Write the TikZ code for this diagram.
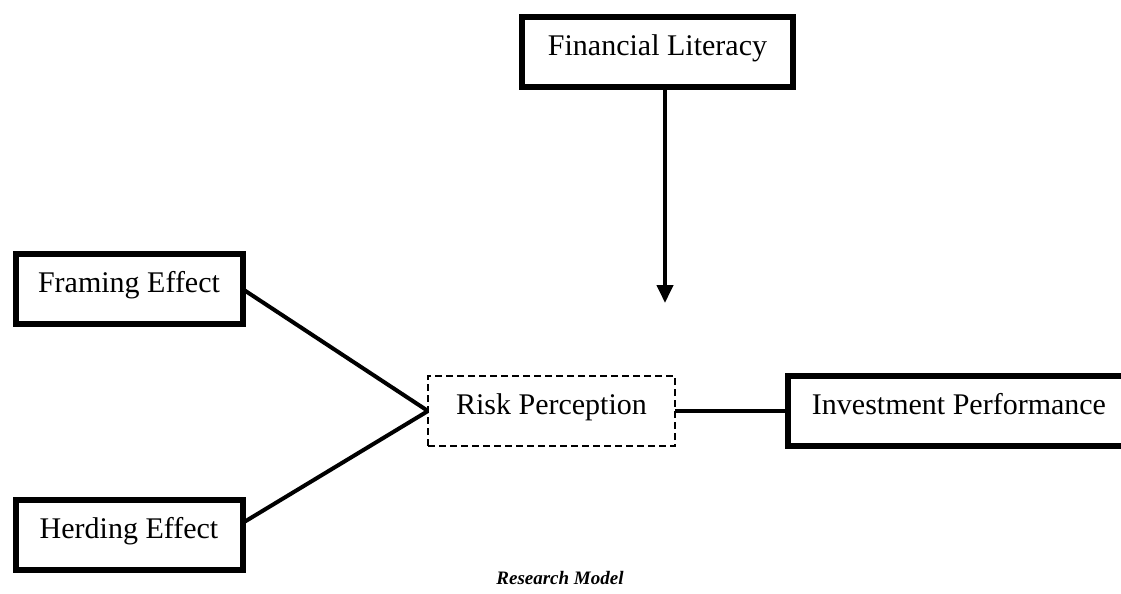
\documentclass[tikz,border=0pt]{standalone}
\usepackage{fontspec}
\setmainfont{Liberation Serif}
\usetikzlibrary{arrows.meta, positioning, calc}

\begin{document}
\begin{tikzpicture}[
  x=0.5pt,y=-0.5pt,
  construct/.style={
    rectangle, draw=black, line width=3pt, fill=white,
    inner sep=0pt, outer sep=0pt,
    text height=19pt, text depth=16pt,
    font=\fontsize{15}{18}\selectfont
  },
  mediator/.style={construct, line width=1pt, dash pattern=on 3.5pt off 2pt},
  link/.style={line width=2pt, draw=black},
  arrow/.style={link, -{Triangle[length=9pt, width=8pt]}},
  caption/.style={font=\fontsize{9.5}{11}\selectfont\bfseries\itshape}
]

\useasboundingbox (0,0) rectangle (1121,594);

% ---- fixed positions ----
\node[construct, minimum width=135.5pt] (finlit)  at (657.5, 52)  {Financial Literacy};
\node[construct, minimum width=113.5pt] (framing) at (129, 289)   {Framing Effect};
\node[construct, minimum width=113.5pt] (herding) at (129, 535)   {Herding Effect};
\node[mediator,  minimum width=123.5pt] (risk)    at (551.5, 411) {Risk Perception};
\node[construct, minimum width=171pt]   (invest)  at (959, 411)   {Investment Performance};

\node[caption] (title) at (560, 578) {Research Model};

% ---- moderator arrow ----
\coordinate (tip) at (665, 303);
\draw[arrow] (finlit.south -| tip) -- (tip);

% ---- connectors ----
\draw[link] (framing.east) -- (risk.west);
\draw[link] ($(herding.east)+(0,-12)$) -- (risk.west);
\draw[link] (risk.east) -- (invest.west);

\end{tikzpicture}
\end{document}
